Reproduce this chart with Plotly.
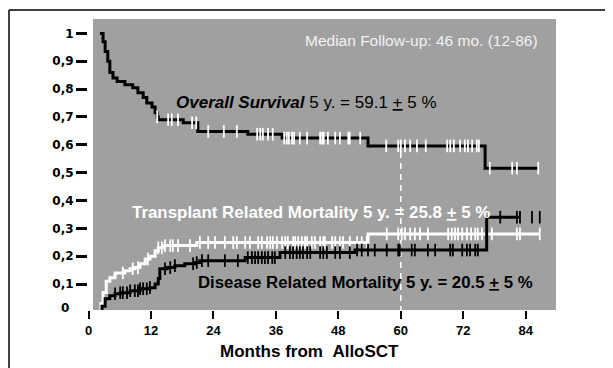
import plotly.graph_objects as go

# ---------------- data (months, probability) ----------------
OS_T = [2.2, 2.8, 3.2, 3.7, 4.1, 4.7, 5.5, 7.0, 8.5, 9.5, 10.5, 11.2, 12.2, 12.8, 13.2, 13.4,
        18.2, 21.0, 30.6, 37.2, 53.7, 76.2, 86.4]
OS_S = [1.0, 0.97, 0.935, 0.90, 0.86, 0.84, 0.827, 0.816, 0.805, 0.787, 0.77, 0.75, 0.736, 0.715,
        0.70, 0.69, 0.679, 0.648, 0.638, 0.624, 0.596, 0.516, 0.516]
OS_CENS = [13.2, 15.3, 16.0, 17.2, 19.9, 20.7, 23.0, 26.0, 28.5, 32.4, 33.0, 33.5, 34.5, 35.4,
           37.6, 38.1, 38.5, 39.1, 39.5, 40.6, 42.0, 44.5, 44.9, 45.2, 46.0, 47.4, 48.3, 49.9,
           50.2, 52.2, 57.2, 59.5, 60.0, 60.8, 61.8, 63.1, 64.8, 68.9, 69.5, 70.2, 71.4, 72.3,
           72.9, 73.7, 74.6, 75.0, 77.1, 81.4, 82.3, 86.4]

TRM_T = [2.2, 2.4, 2.8, 3.4, 4.1, 5.1, 7.0, 8.0, 8.9, 9.9, 10.9, 11.8, 12.8, 13.4, 14.3, 20.8,
         53.7, 86.7]
TRM_C = [0.0, 0.03, 0.07, 0.11, 0.123, 0.14, 0.148, 0.155, 0.159, 0.173, 0.19, 0.20, 0.22, 0.23,
         0.238, 0.249, 0.28, 0.28]
TRM_CENS = [6.6, 8.5, 9.5, 11.4, 13.4, 14.1, 14.7, 15.7, 16.2, 17.2, 19.5, 21.4, 23.0, 24.3,
            26.2, 27.8, 28.5, 30.1, 31.0, 32.6, 33.3, 34.3, 34.9, 35.4, 36.2, 37.2, 37.8, 38.3,
            39.3, 39.7, 40.3, 41.0, 41.6, 42.0, 42.9, 43.5, 44.5, 45.1, 45.4, 46.8, 47.4, 48.3,
            48.9, 50.2, 51.6, 52.5, 53.5, 57.3, 59.5, 60.2, 60.8, 61.8, 62.7, 63.7, 65.2, 69.1,
            69.8, 70.4, 71.0, 71.8, 72.7, 73.5, 74.3, 74.8, 75.6, 77.5, 82.3, 82.9, 86.7]

DRM_T = [2.2, 2.6, 3.2, 4.1, 5.1, 6.1, 8.0, 9.9, 11.8, 12.8, 13.4, 13.7, 15.1, 16.6, 18.5, 20.4,
         21.4, 30.1, 36.8, 51.2, 76.5, 82.9]
DRM_C = [0.0, 0.02, 0.047, 0.058, 0.065, 0.069, 0.076, 0.083, 0.087, 0.10, 0.12, 0.155, 0.159,
         0.166, 0.173, 0.177, 0.184, 0.195, 0.213, 0.222, 0.34, 0.34]
DRM_CENS = [5.1, 6.1, 6.6, 7.4, 8.0, 8.9, 9.5, 9.9, 10.5, 11.2, 11.8, 14.7, 15.7, 16.6, 20.1,
            20.8, 21.8, 23.0, 26.2, 28.7, 30.6, 31.4, 32.0, 32.6, 33.3, 33.9, 34.5, 35.3, 35.8,
            37.8, 38.7, 39.3, 40.0, 40.6, 41.2, 42.0, 42.6, 44.5, 45.1, 45.8, 47.4, 48.3, 50.2,
            51.6, 52.5, 53.7, 55.0, 57.3, 59.5, 59.8, 62.1, 62.7, 65.2, 66.6, 69.5, 70.0, 71.8,
            72.7, 73.3, 74.3, 74.8, 79.1, 82.3, 82.9, 85.2, 86.7]

X_TICKS = [0, 12, 24, 36, 48, 60, 72, 84]
Y_TICKS = [0.1, 0.2, 0.3, 0.4, 0.5, 0.6, 0.7, 0.8, 0.9, 1.0]
Y_TICK_LABELS = ["0,1", "0,2", "0,3", "0,4", "0,5", "0,6", "0,7", "0,8", "0,9", "1"]
MEDIAN_MONTH = 60


def step_at(ts, vs, t):
    v = vs[0]
    for tt, vv in zip(ts, vs):
        if tt <= t:
            v = vv
    return v


# ---------------- geometry helpers (layout only) ----------------
OFF = 8                      # browser default body margin
W, H = 613 - OFF, 368 - OFF
L, R, T, B = 88 - OFF, 57, 19 - OFF, 58
PW, PH = W - L - R, H - T - B


def px(x):                   # page pixel -> paper x
    return (x - OFF - L) / PW


def py(y):                   # page pixel -> paper y
    return (H - B - (y - OFF)) / PH


# x axis: month 0 at page px 88.5, 5.205 px per month
X0_PX, X_SCALE = 88.5, 5.205
# y axis: value 0 at page px 311.9, 278.5 px per unit
Y0_PX, Y_SCALE = 311.9, 278.5

fig = go.Figure()

fig.add_trace(go.Scatter(x=OS_T, y=OS_S, mode="lines", line=dict(color="black", width=3, shape="hv"),
                         hoverinfo="skip"))
fig.add_trace(go.Scatter(x=OS_CENS, y=[step_at(OS_T, OS_S, t) for t in OS_CENS], mode="markers",
                         marker=dict(symbol="line-ns", size=9, line=dict(color="white", width=1.8)),
                         hoverinfo="skip"))
fig.add_trace(go.Scatter(x=[MEDIAN_MONTH, MEDIAN_MONTH], y=[0, step_at(OS_T, OS_S, MEDIAN_MONTH)],
                         mode="lines", line=dict(color="white", width=1.5, dash="6px,5px"),
                         hoverinfo="skip"))
fig.add_trace(go.Scatter(x=TRM_T, y=TRM_C, mode="lines", line=dict(color="white", width=3, shape="hv"),
                         hoverinfo="skip"))
fig.add_trace(go.Scatter(x=TRM_CENS, y=[step_at(TRM_T, TRM_C, t) for t in TRM_CENS], mode="markers",
                         marker=dict(symbol="line-ns", size=9, line=dict(color="white", width=1.8)),
                         hoverinfo="skip"))
fig.add_trace(go.Scatter(x=DRM_T, y=DRM_C, mode="lines", line=dict(color="black", width=3, shape="hv"),
                         hoverinfo="skip"))
fig.add_trace(go.Scatter(x=DRM_CENS, y=[step_at(DRM_T, DRM_C, t) for t in DRM_CENS], mode="markers",
                         marker=dict(symbol="line-ns", size=9, line=dict(color="black", width=1.8)),
                         hoverinfo="skip"))

GRAY = "#a0a0a0"
shapes = [
    dict(type="rect", xref="paper", yref="paper", x0=px(93), x1=1, y0=0, y1=1,
         fillcolor=GRAY, line=dict(width=0), layer="below"),
    dict(type="line", xref="paper", yref="paper", x0=px(9), x1=px(640), y0=py(10), y1=py(10),
         line=dict(color="black", width=1.5)),
    dict(type="line", xref="paper", yref="paper", x0=px(9), x1=px(9), y0=py(10), y1=py(400),
         line=dict(color="black", width=1.5)),
]

SANS = "Liberation Sans, Arial, sans-serif"
VERD = "DejaVu Sans, Verdana, sans-serif"
annotations = [
    dict(text="Median Follow-up: 46 mo. (12-86)", xref="paper", yref="paper", x=px(540), y=py(41),
         xanchor="right", yanchor="middle", showarrow=False,
         font=dict(family=SANS, size=15.5, color="#f2f2f2")),
    dict(text="<b><i>Overall Survival</i></b> 5 y. = 59.1 <u>+</u> 5 %", xref="paper", yref="paper",
         x=px(174), y=py(102), xanchor="left", yanchor="middle", showarrow=False,
         font=dict(family=SANS, size=17, color="black")),
    dict(text="<b>Transplant Related Mortality 5 y. = 25.8 <u>+</u> 5 %</b>", xref="paper", yref="paper",
         x=px(130), y=py(212), xanchor="left", yanchor="middle", showarrow=False,
         font=dict(family=SANS, size=16.9, color="white")),
    dict(text="<b>Disease Related Mortality 5 y. = 20.5 <u>+</u> 5 %</b>", xref="paper", yref="paper",
         x=px(196), y=py(282), xanchor="left", yanchor="middle", showarrow=False,
         font=dict(family=SANS, size=16.8, color="black")),
    dict(text="<b>Months from\u00a0\u00a0AlloSCT</b>", xref="paper", yref="paper", x=px(309), y=py(351),
         xanchor="center", yanchor="middle", showarrow=False,
         font=dict(family=SANS, size=17, color="black")),
    dict(text="<b>0</b>", xref="paper", yref="paper", x=px(71), y=py(308), xanchor="right",
         yanchor="middle", showarrow=False, font=dict(family=VERD, size=12, color="black")),
]

fig.update_layout(
    width=W, height=H,
    margin=dict(l=L, r=R, t=T, b=B, pad=0),
    paper_bgcolor="white", plot_bgcolor="white",
    showlegend=False,
    shapes=shapes, annotations=annotations,
    xaxis=dict(range=[(88 - X0_PX) / X_SCALE, (556 - X0_PX) / X_SCALE], tickvals=X_TICKS,
               ticktext=[f"<b>{v}</b>" for v in X_TICKS], ticks="outside", ticklen=8, tickwidth=2,
               tickcolor="black", showgrid=False, zeroline=False, showline=False,
               tickfont=dict(family=SANS, size=13, color="black"), fixedrange=True),
    yaxis=dict(range=[(Y0_PX - 310) / Y_SCALE, (Y0_PX - 19) / Y_SCALE], tickvals=Y_TICKS,
               ticktext=[f"<b>{t}</b>" for t in Y_TICK_LABELS], ticks="outside", ticklen=11, tickwidth=3,
               tickcolor="black", showgrid=False, zeroline=False, showline=False,
               tickfont=dict(family=VERD, size=12, color="black"), fixedrange=True),
)

fig.write_html("out.html")
